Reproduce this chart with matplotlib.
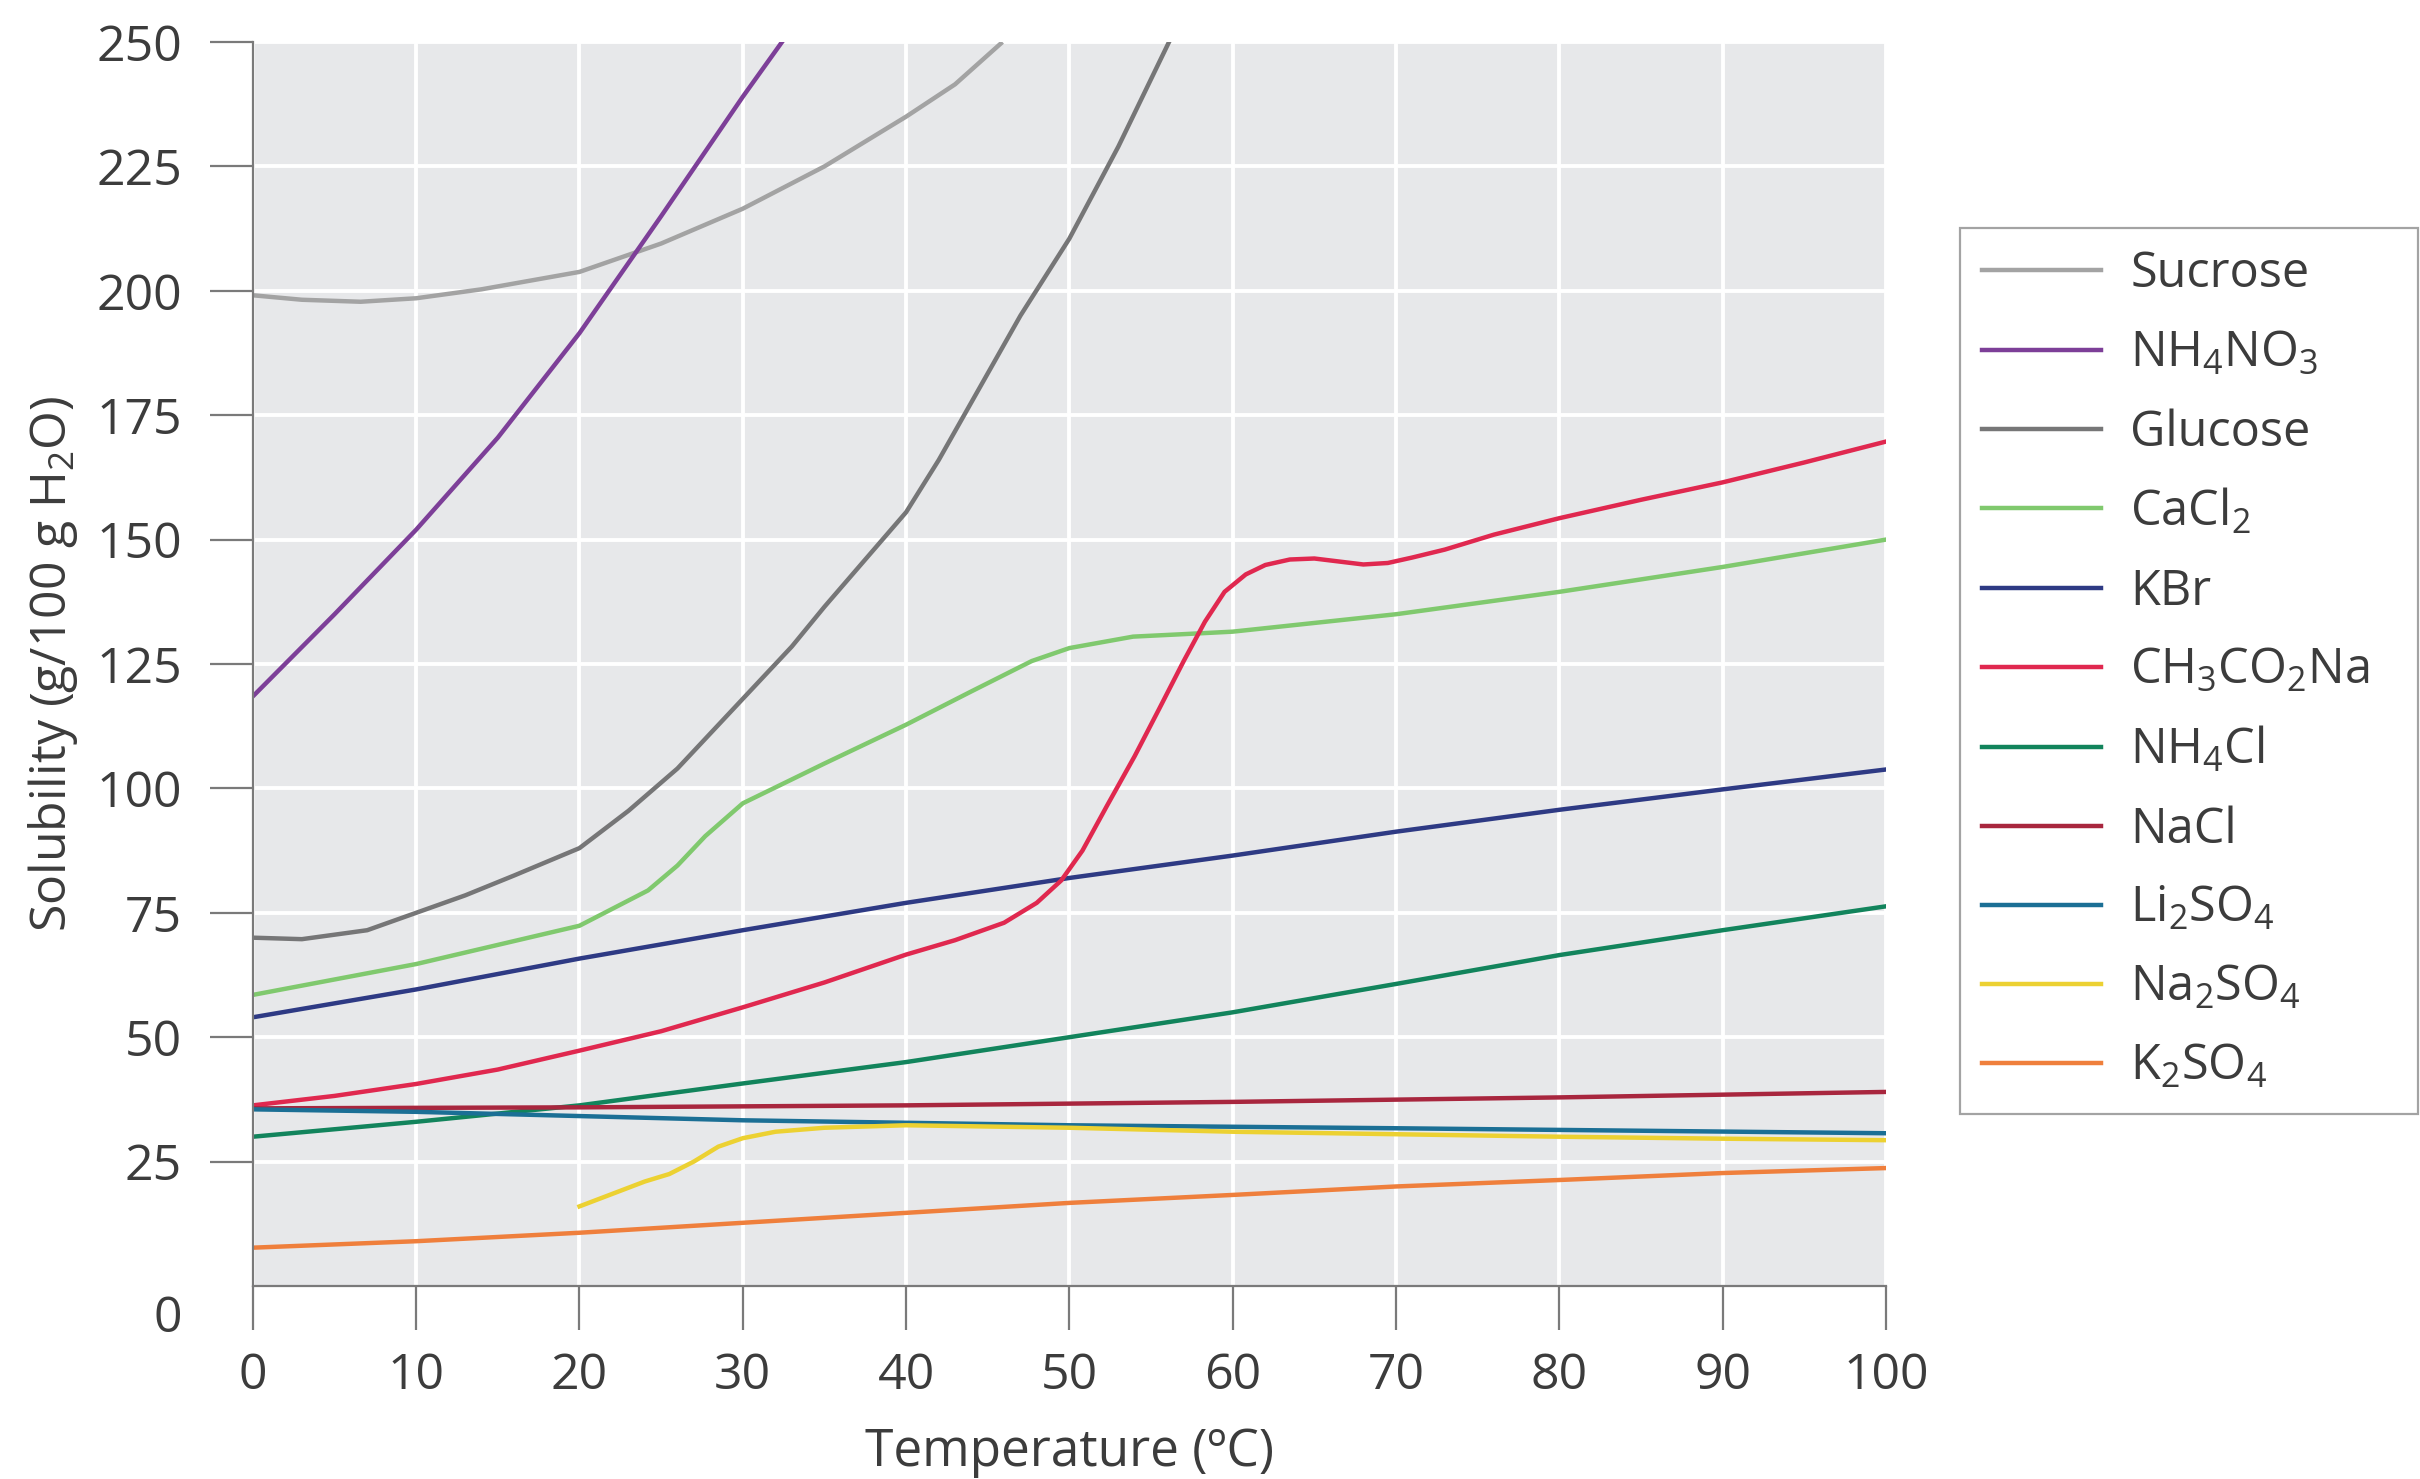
import matplotlib
matplotlib.use('Agg')
from matplotlib import pyplot as plt

plt.rcParams['font.family'] = ['Open Sans', 'DejaVu Sans']
plt.rcParams['mathtext.fontset'] = 'custom'
plt.rcParams['mathtext.rm'] = 'Open Sans'
plt.rcParams['mathtext.default'] = 'regular'

TEXT_COLOR = '#3c3c3c'
AXIS_COLOR = '#7a7a7a'

# solubility curves (temperature in C, g / 100 g water)
sucrose_t = [0, 3, 6.6, 10, 14, 20, 25, 30, 35, 40, 43, 45.8]
sucrose_s = [199.1, 198.2, 197.8, 198.5, 200.3, 203.8, 209.5, 216.5, 225, 235, 241.5, 249.7]

nh4no3_t = [0, 5, 10, 15, 20, 25, 30, 32.4]
nh4no3_s = [118.5, 135, 152, 170.5, 191.5, 215, 239, 250]

glucose_t = [0, 3, 7, 10, 13, 16, 20, 23, 26, 30, 33, 35, 37.5, 40, 42, 44.5, 47, 50, 53, 56.1]
glucose_s = [70, 69.7, 71.5, 75, 78.5, 82.5, 88, 95.5, 104, 118, 128.5, 136.5, 146, 155.5, 166, 180.5, 195, 210.5, 229, 250]

cacl2_t = [0, 10, 20, 24.2, 26, 27.7, 30, 35, 40, 44, 47.7, 50, 53.9, 57, 60, 70, 80, 90, 100]
cacl2_s = [58.5, 64.7, 72.4, 79.5, 84.5, 90.4, 97, 105, 112.8, 119.5, 125.6, 128.2, 130.5, 131, 131.5, 135, 139.5, 144.5, 150]

kbr_t = [0, 10, 20, 30, 40, 50, 60, 70, 80, 90, 100]
kbr_s = [54, 59.6, 65.8, 71.5, 77, 82, 86.5, 91.3, 95.7, 99.8, 103.8]

ch3co2na_t = [0, 5, 10, 15, 20, 25, 30, 35, 40, 43, 46, 48, 49.5, 50.8, 52.3, 54, 55.5, 57, 58.3, 59.5,
              60.8, 62, 63.5, 65, 66.5, 68, 69.5, 71, 73, 76, 80, 85, 90, 95, 100]
ch3co2na_s = [36.3, 38.2, 40.6, 43.5, 47.3, 51.2, 56, 61, 66.6, 69.5, 73, 77, 81.5, 87.5, 96.5, 106.5, 116, 125.6, 133.5, 139.5,
              143, 144.9, 146, 146.2, 145.6, 145, 145.3, 146.4, 148, 151, 154.3, 158, 161.5, 165.5, 169.7]

nh4cl_t = [0, 10, 20, 30, 40, 50, 60, 70, 80, 90, 100]
nh4cl_s = [30, 33, 36.3, 40.7, 45, 50, 55, 60.7, 66.5, 71.5, 76.3]

nacl_t = [0, 20, 40, 60, 80, 100]
nacl_s = [35.7, 35.9, 36.3, 37, 37.9, 39]

li2so4_t = [0, 10, 30, 50, 70, 100]
li2so4_s = [35.5, 35, 33.3, 32.3, 31.7, 30.7]

na2so4_t = [20, 22, 24, 25.5, 27, 28.5, 30, 32, 35, 40, 50, 60, 70, 80, 90, 100]
na2so4_s = [16, 18.5, 21, 22.5, 25, 28, 29.7, 31, 31.8, 32.3, 31.8, 31, 30.5, 30, 29.6, 29.3]

k2so4_t = [0, 10, 20, 30, 40, 50, 60, 70, 80, 90, 100]
k2so4_s = [7.7, 9, 10.7, 12.7, 14.7, 16.7, 18.3, 20, 21.3, 22.7, 23.7]

series = [
    ('Sucrose', sucrose_t, sucrose_s, '#a3a3a3'),
    ('NH$_4$NO$_3$', nh4no3_t, nh4no3_s, '#7d3f98'),
    ('Glucose', glucose_t, glucose_s, '#767677'),
    ('CaCl$_2$', cacl2_t, cacl2_s, '#80c96e'),
    ('KBr', kbr_t, kbr_s, '#2e3a84'),
    ('CH$_3$CO$_2$Na', ch3co2na_t, ch3co2na_s, '#e0284f'),
    ('NH$_4$Cl', nh4cl_t, nh4cl_s, '#12845c'),
    ('NaCl', nacl_t, nacl_s, '#a8263e'),
    ('Li$_2$SO$_4$', li2so4_t, li2so4_s, '#1b6f95'),
    ('Na$_2$SO$_4$', na2so4_t, na2so4_s, '#ecd132'),
    ('K$_2$SO$_4$', k2so4_t, k2so4_s, '#ef7f3c'),
]

x_ticks = list(range(0, 101, 10))
y_ticks = list(range(25, 251, 25))

fig = plt.figure(figsize=(24.2, 14.79), dpi=100)
ax = fig.add_axes([0.1045, 0.1305, 0.6748, 0.8411])
ax.set_facecolor('#e7e8ea')

for label, t, s, color in series:
    ax.plot(t, s, '-', color=color, lw=3.2, label=label, solid_joinstyle='round')

ax.set_xlim(0, 100)
ax.set_ylim(0, 250)
ax.set_xticks(x_ticks)
ax.set_yticks(y_ticks)
ax.grid(True, color='white', lw=2.8)
ax.set_axisbelow(True)

for side in ['top', 'right']:
    ax.spines[side].set_visible(False)
for side in ['left', 'bottom']:
    ax.spines[side].set_color(AXIS_COLOR)
    ax.spines[side].set_linewidth(1.6)

ax.tick_params(axis='x', direction='out', length=32, width=1.6, color=AXIS_COLOR,
               labelsize=36, labelcolor=TEXT_COLOR, pad=15)
ax.tick_params(axis='y', direction='out', length=31, width=1.6, color=AXIS_COLOR,
               labelsize=36, labelcolor=TEXT_COLOR, pad=20)

# the zero label sits a little under the axis, with no tick
ax.annotate('0', xy=(0, -6.6), xycoords=('axes fraction', 'data'),
            xytext=(-51, 0), textcoords='offset points',
            ha='right', va='center', fontsize=36, color=TEXT_COLOR,
            annotation_clip=False)

ax.set_xlabel('Temperature (\u00baC)', fontsize=37, color=TEXT_COLOR, labelpad=19)
ax.set_ylabel('Solubility (g/100 g H$_2$O)', fontsize=36, color=TEXT_COLOR, labelpad=12)

leg = ax.legend(loc='upper left', bbox_to_anchor=(0.8099, 0.8458, 0.1893, 0),
                bbox_transform=fig.transFigure, mode='expand', borderaxespad=0,
                fontsize=35, frameon=True, fancybox=False, handlelength=2.45,
                handletextpad=0.6, labelspacing=0.61, borderpad=0.45)
leg.get_frame().set_edgecolor('#8c8c8c')
leg.get_frame().set_linewidth(1.6)
for txt in leg.get_texts():
    txt.set_color(TEXT_COLOR)

plt.savefig('out.png', dpi=100)
